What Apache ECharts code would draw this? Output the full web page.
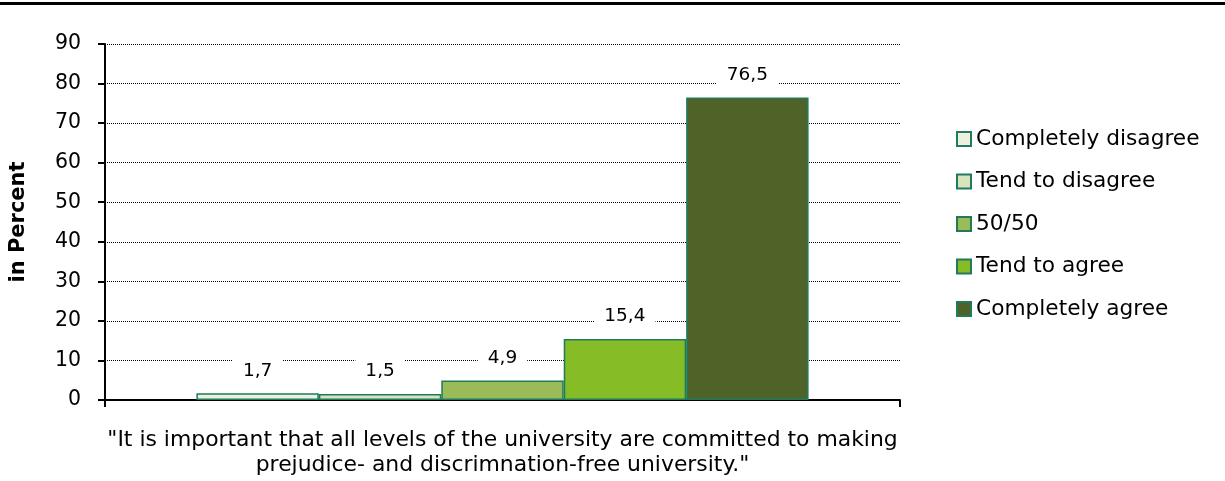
<!DOCTYPE html>
<html>
<head>
<meta charset="utf-8">
<script src="https://cdn.jsdelivr.net/npm/echarts@6/dist/echarts.min.js"></script>
<style>
html,body{margin:0;padding:0;background:#fff;}
#chart{width:1225px;height:481px;}
</style>
</head>
<body>
<div id="chart"></div>
<script>
// ---- data ----
const categories = ['"It is important that all levels of the university are committed to making\nprejudice- and discrimnation-free university."'];
const seriesNames = ['Completely disagree', 'Tend to disagree', '50/50', 'Tend to agree', 'Completely agree'];
const seriesValues = [[1.7], [1.5], [4.9], [15.4], [76.5]];
const yTicks = [0, 10, 20, 30, 40, 50, 60, 70, 80, 90];
const yAxisTitle = 'in Percent';

// ---- styles ----
const fillColors = ['#EBF1DE', '#D8E4BC', '#9BBB59', '#86BC25', '#4F6228'];
const borderColor = '#1E7B5C';
const FONT = "'DejaVu Sans', sans-serif";

const chart = echarts.init(document.getElementById('chart'), null, {renderer: 'canvas'});

const series = seriesNames.map((name, i) => ({
  name: name,
  type: 'bar',
  data: seriesValues[i],
  barGap: '0%',
  barCategoryGap: '23%',
  itemStyle: { color: fillColors[i], borderColor: borderColor, borderWidth: 1.5 },
  label: {
    show: true,
    position: 'top',
    distance: 9,
    fontFamily: FONT,
    fontSize: 18.5,
    color: '#000',
    backgroundColor: '#fff',
    padding: [4, 10],
    formatter: p => String(p.value).replace('.', ',')
  },
  emphasis: { disabled: true }
}));

chart.setOption({
  animation: false,
  textStyle: { fontFamily: FONT },
  graphic: [{
    type: 'rect',
    left: 0, top: 2,
    shape: { width: 1225, height: 3 },
    style: { fill: '#000' }
  }],
  grid: { left: 105, right: 325, top: 44, bottom: 81 },
  legend: {
    orient: 'vertical',
    left: 951,
    top: 123,
    itemWidth: 14,
    itemHeight: 14,
    itemGap: 20.5,
    icon: 'rect',
    textStyle: { fontFamily: FONT, fontSize: 21.7, color: '#000' },
    data: seriesNames
  },
  xAxis: {
    type: 'category',
    data: categories,
    axisLine: { lineStyle: { color: '#000', width: 2 } },
    axisTick: { show: true, length: 7, lineStyle: { color: '#000', width: 2 } },
    axisLabel: { fontFamily: FONT, fontSize: 21.9, color: '#000', margin: 28, lineHeight: 25, align: 'center' }
  },
  yAxis: {
    type: 'value',
    min: yTicks[0],
    max: yTicks[yTicks.length - 1],
    interval: yTicks[1] - yTicks[0],
    name: yAxisTitle,
    nameLocation: 'middle',
    nameGap: 76,
    nameRotate: 90,
    nameTextStyle: { fontFamily: FONT, fontSize: 21, fontWeight: 'bold', color: '#000' },
    axisLine: { show: true, lineStyle: { color: '#000', width: 2 } },
    axisTick: { show: true, length: 7, lineStyle: { color: '#000', width: 2 } },
    axisLabel: { fontFamily: FONT, fontSize: 20.5, color: '#000', margin: 24 },
    splitLine: { show: true, lineStyle: { color: '#000', width: 1, type: [1, 1] } }
  },
  series: series
});
</script>
</body>
</html>
